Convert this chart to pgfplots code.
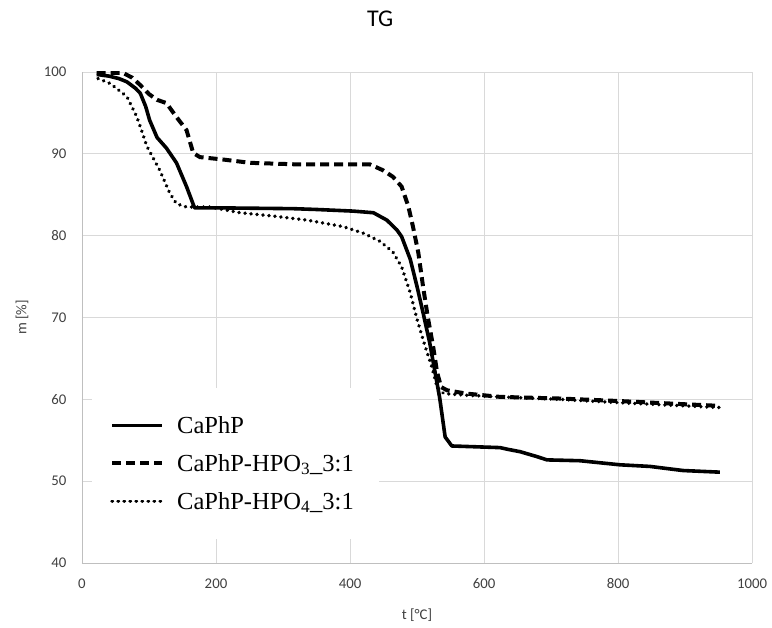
\documentclass[border=0pt]{standalone}
\usepackage{fontspec}
\setmainfont{Carlito}
\newfontfamily\legfont{Liberation Serif}
\usepackage{pgfplots}
\pgfplotsset{compat=1.18}
\definecolor{gridclr}{HTML}{D9D9D9}
\definecolor{axisclr}{HTML}{BFBFBF}
\definecolor{txtclr}{HTML}{404040}

\begin{document}
\begin{tikzpicture}
\useasboundingbox (-82bp,-65bp) rectangle (690bp,563bp);
\begin{axis}[
  scale only axis,
  width=670bp, height=491bp,
  xmin=0, xmax=1000, ymin=40, ymax=100,
  xtick={0,200,...,1000}, ytick={40,50,...,100},
  major tick length=0pt,
  grid=major,
  grid style={draw=gridclr, line width=1pt},
  axis line style={draw=axisclr, line width=1pt},
  axis x line*=bottom, axis y line*=left,
  /pgf/number format/assume math mode=true,
  /pgf/number format/1000 sep={},
  ticklabel style={font=\fontsize{14.8bp}{17bp}\selectfont, text=txtclr},
  xticklabel style={yshift=-12bp},
  yticklabel style={xshift=-12bp},
  xlabel={t [°C]}, ylabel={m [\%]},
  label style={font=\fontsize{14.8bp}{17bp}\selectfont, text=txtclr},
  xlabel style={at={(0.5,-0.106)}, anchor=center},
  ylabel style={at={(-0.0896,0.5)}, anchor=center},
  title={TG},
  title style={font=\fontsize{24bp}{28bp}\selectfont, text=black, at={(0.445,1.0957)}, anchor=center},
  legend cell align=left,
  legend style={at={(0.015,0.3564)}, anchor=north west, fill=white, draw=none,
    font=\legfont\fontsize{24.5bp}{29bp}\selectfont,
    inner xsep=18bp, inner ysep=26bp,
    row sep=15.5bp,
    nodes={inner xsep=7bp}},
  legend image code/.code={\draw[#1] (0bp,0bp) -- (50bp,0bp); \path (56bp,0bp);},
]
\addplot[black, line width=3.6bp, line join=round] coordinates {
(22,99.7) (40,99.5) (55,99.2) (67,98.8) (80,98.0) (87,97.4) (95,95.8) (101,94.1) (112,92.0) (126,90.7)
(141,88.9) (156,86.0) (168,83.4) (200,83.4) (315,83.3) (350,83.2) (405,83.0) (435,82.8)
(455,81.9) (470,80.7) (477,79.9) (490,77.1) (500,73.8) (509,70.6) (519,66.9) (527,63.3)
(534,60.1) (542,55.4) (552,54.3) (624,54.1) (635,53.9) (654,53.6) (679,53.0) (694,52.6)
(743,52.5) (803,52.0) (848,51.8) (897,51.3) (952,51.1)
};
\addplot[black, line width=4bp, dash pattern=on 9bp off 5bp] coordinates {
(22,99.9) (61,99.9) (75,99.3) (87,98.4) (100,97.3) (112,96.6) (126,96.2) (141,94.5) (156,92.9)
(166,90.1) (176,89.6) (211,89.3) (251,88.9) (325,88.7) (430,88.7) (449,88.0) (464,87.2)
(477,86.0) (487,83.6) (494,81.1) (502,77.9) (509,73.8) (516,70.1) (524,66.5) (530,63.3)
(536,61.5) (545,61.1) (574,60.7) (624,60.3) (713,60.1) (800,59.8) (900,59.4) (952,59.2)
};
\addplot[black, line width=3.8bp, line cap=round, dash pattern=on 0.01bp off 6bp] coordinates {
(24,99.2) (42,98.6) (67,97.0) (82,94.5) (97,90.9) (116,88.0) (131,85.2) (141,83.9)
(156,83.5) (191,83.5) (236,82.8) (285,82.4) (336,81.9) (390,81.1) (420,80.3) (445,79.3)
(464,78.0) (477,76.2) (490,73.0) (500,69.8) (512,66.5) (522,64.0) (530,61.5) (540,60.7)
(574,60.5) (624,60.3) (713,60.0) (800,59.6) (900,59.2) (952,59.0)
};
\legend{CaPhP, CaPhP-HPO\textsubscript{3}\_3:1, CaPhP-HPO\textsubscript{4}\_3:1}
\end{axis}
\end{tikzpicture}
\end{document}
